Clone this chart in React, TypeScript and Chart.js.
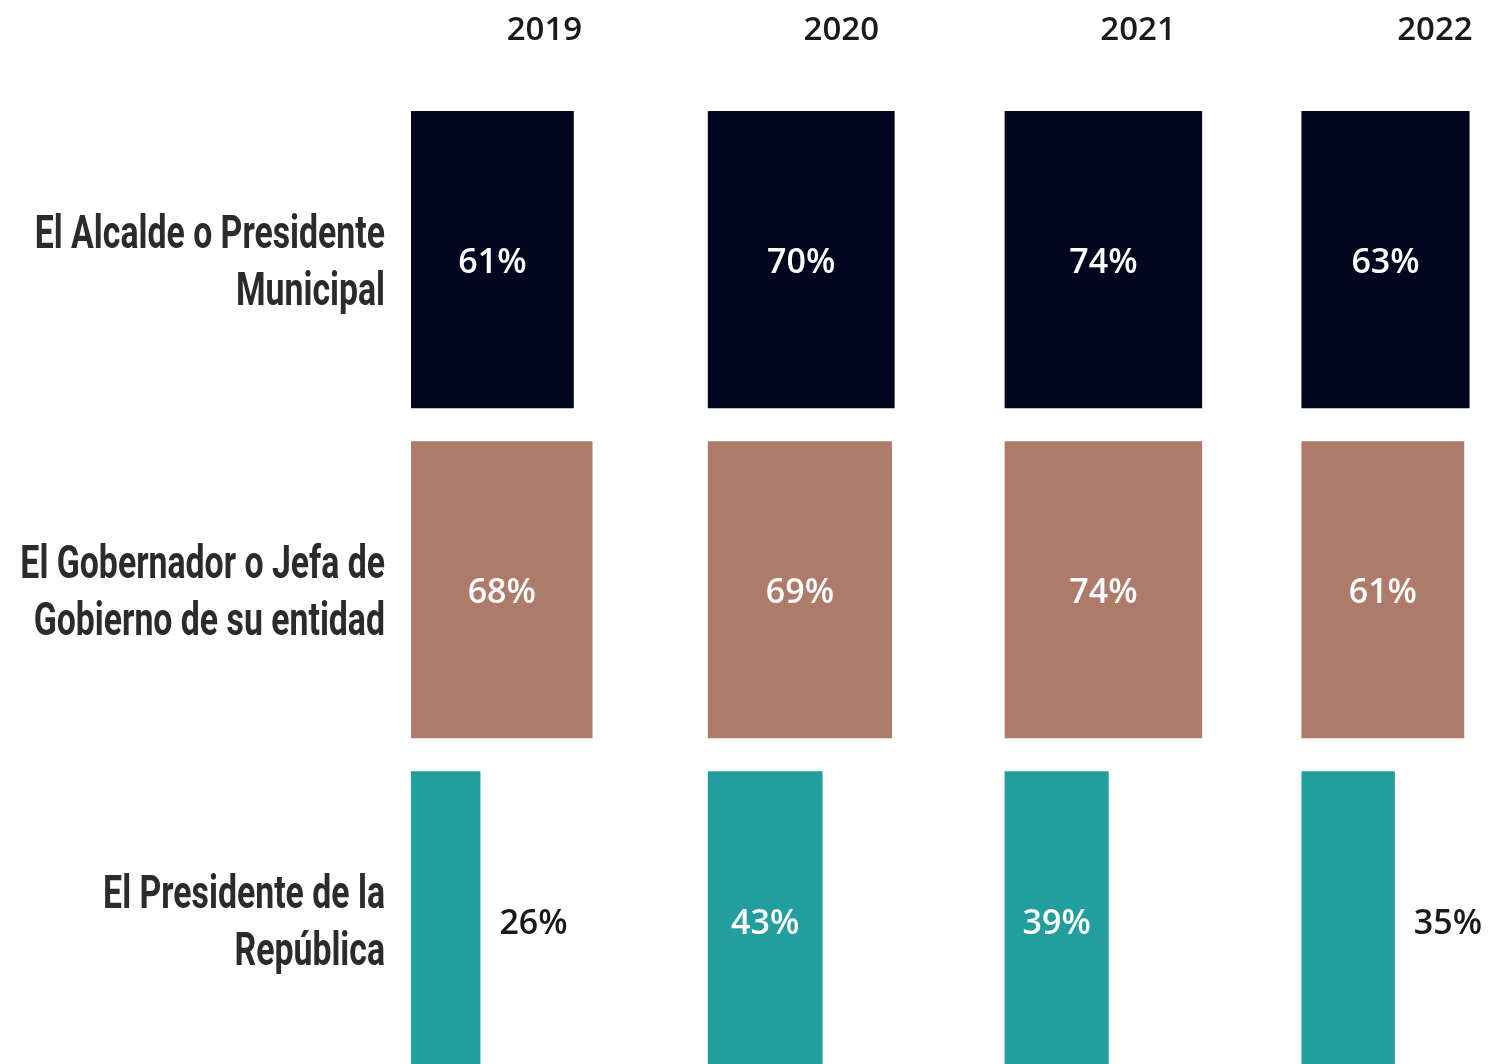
import React, { useEffect, useRef } from "react";
import { Chart, registerables } from "chart.js";

Chart.register(...registerables);

const years = ["2019", "2020", "2021", "2022"];
const categories = [
  ["El Alcalde o Presidente", "Municipal"],
  ["El Gobernador o Jefa de", "Gobierno de su entidad"],
  ["El Presidente de la", "República"],
];
const values2019 = [61, 68, 26];
const values2020 = [70, 69, 43];
const values2021 = [74, 74, 39];
const values2022 = [63, 61, 35];
const seriesByYear = [values2019, values2020, values2021, values2022];
const categoryColors = ["#03061F", "#AE7A6A", "#239E9E"];

const COLUMN_SPAN = 111.2; // each year's panel width on the shared % axis
const OUTSIDE_THRESHOLD = 37;
const W = 1492;
const H = 1085;

export default function App() {
  const ref = useRef<HTMLCanvasElement | null>(null);

  useEffect(() => {
    if (!ref.current) return;
    document.body.style.margin = "0";
    document.body.style.overflow = "hidden";

    const labelsPlugin = {
      id: "customLabels",
      afterDatasetsDraw(chart: any) {
        const ctx = chart.ctx as CanvasRenderingContext2D;
        const xScale = chart.scales.x;
        const yScale = chart.scales.y;
        ctx.save();
        // value labels
        ctx.font = "600 34px 'Open Sans', sans-serif";
        ctx.textBaseline = "middle";
        chart.data.datasets.forEach((ds: any, d: number) => {
          const meta = chart.getDatasetMeta(d);
          meta.data.forEach((bar: any, i: number) => {
            const v = seriesByYear[d][i];
            const txt = v + "%";
            if (v < OUTSIDE_THRESHOLD) {
              ctx.fillStyle = "#1a1a1a";
              ctx.textAlign = "left";
              ctx.fillText(txt, bar.x + 19, bar.y + 4);
            } else {
              ctx.fillStyle = "#ffffff";
              ctx.textAlign = "center";
              ctx.fillText(txt, (bar.x + bar.base) / 2, bar.y + 4);
            }
          });
        });
        // year headers
        ctx.fillStyle = "#1a1a1a";
        ctx.textAlign = "center";
        ctx.font = "600 33px 'Open Sans', sans-serif";
        years.forEach((y, i) => {
          const px = xScale.getPixelForValue(i * COLUMN_SPAN + 50);
          ctx.fillText(y, px, 31);
        });
        // category labels (condensed)
        ctx.fillStyle = "#2b2b2b";
        ctx.font = "700 46px Roboto, sans-serif";
        ctx.textAlign = "right";
        const sx = 0.735;
        const rightEdge = 385;
        categories.forEach((lines, i) => {
          const cy = yScale.getPixelForValue(i) + 5;
          const lh = 57;
          const startY = cy - ((lines.length - 1) * lh) / 2;
          lines.forEach((line, j) => {
            ctx.save();
            ctx.translate(rightEdge, startY + j * lh);
            ctx.scale(sx, 1);
            ctx.fillText(line, 0, 0);
            ctx.restore();
          });
        });
        ctx.restore();
      },
    };

    const chart = new Chart(ref.current, {
      type: "bar",
      data: {
        labels: categories.map((c) => c.join(" ")),
        datasets: years.map((y, yi) => ({
          label: y,
          data: seriesByYear[yi].map((v) => [yi * COLUMN_SPAN, yi * COLUMN_SPAN + v]),
          backgroundColor: categoryColors,
          borderWidth: 0,
          grouped: false,
          categoryPercentage: 0.9,
          barPercentage: 1,
        })) as any,
      },
      options: {
        indexAxis: "y",
        animation: false,
        responsive: false,
        devicePixelRatio: 1,
        layout: { padding: { top: 94.5, right: 0, bottom: 0, left: 0 } },
        plugins: {
          legend: { display: false },
          tooltip: { enabled: false },
          title: { display: false },
        },
        scales: {
          x: {
            display: false,
            min: 0,
            max: 405,
          },
          y: {
            display: true,
            grid: { display: false },
            border: { display: false },
            ticks: { display: false },
            afterFit: (scale: any) => {
              scale.width = 411;
            },
          },
        },
      },
      plugins: [labelsPlugin],
    });
    return () => chart.destroy();
  }, []);

  return (
    <div
      style={{
        position: "fixed",
        top: 0,
        left: 0,
        width: W,
        height: 1064,
        overflow: "hidden",
        background: "#ffffff",
      }}
    >
      <canvas ref={ref} width={W} height={H} style={{ display: "block", width: W, height: H }} />
    </div>
  );
}
